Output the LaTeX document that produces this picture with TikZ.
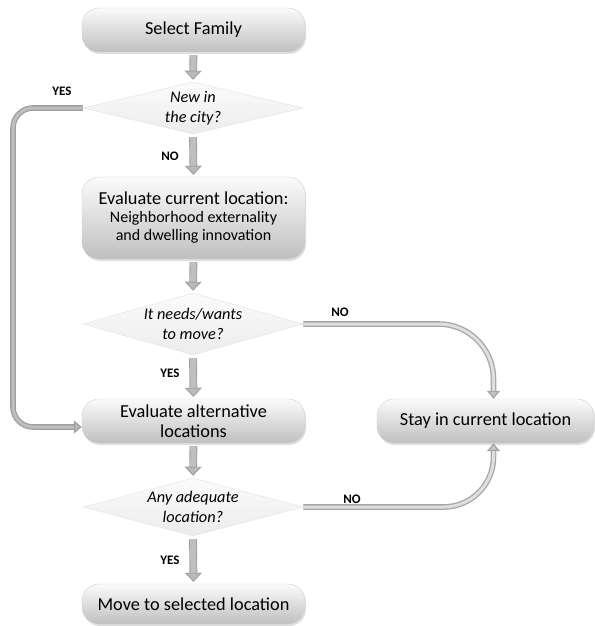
\documentclass[tikz,border=0pt]{standalone}
\usepackage{fontspec}
\setmainfont{Carlito}
\usetikzlibrary{shapes.geometric,arrows.meta,shadows,calc}
\begin{document}
\begin{tikzpicture}[x=1pt,y=-1pt,
  box/.style={rounded corners=17pt, minimum width=223pt, minimum height=44pt,
    top color=gray!3, bottom color=gray!50, draw=gray!35, line width=0.4pt,
    align=center, font=\fontsize{18.3}{20}\selectfont,
    drop shadow={opacity=0.25, shadow xshift=1pt, shadow yshift=-2pt}},
  dia/.style={diamond, draw=gray!20, line width=0.5pt, top color=gray!3, bottom color=gray!15,
    minimum width=220pt, inner sep=0pt},
  dtext/.style={align=center, font=\fontsize{16.3}{20}\selectfont\itshape},
  lbl/.style={font=\fontsize{13}{15}\selectfont\bfseries},
  blk/.style={draw=gray!75, double=gray!50, double distance=6pt, line width=0.9pt,
    -{Triangle[length=9pt,width=17pt,fill=gray!55]}, shorten <=3pt, shorten >=2pt},
  tube/.style={draw=gray!70, double=gray!25, double distance=3pt, line width=1.3pt,
    -{Triangle[length=8pt,width=13pt,fill=gray!45]}},
  dtube/.style={draw=gray!75, double=gray!50, double distance=3pt, line width=1.3pt,
    -{Triangle[length=8pt,width=13pt,fill=gray!55]}}
]
\useasboundingbox (0,0) rectangle (594,626);

\node[box] (sf) at (193.5,30) {Select Family};
\node[dia, minimum height=52pt] (d1) at (193,108) {};
\node[dtext] (t1) at (d1) {New in\\the city?};
\node[box, minimum height=82pt] (ecl) at (193.5,218) {Evaluate current location:\\[-2pt]{\fontsize{16}{19}\selectfont Neighborhood externality}\\[-2pt]{\fontsize{16}{19}\selectfont and dwelling innovation}};
\node[dia, minimum height=62pt] (d2) at (193,324) {};
\node[dtext] (t2) at (d2) {It needs/wants\\to move?};
\node[box] (eal) at (193.5,421) {Evaluate alternative\\locations};
\node[box, minimum width=217pt] (stay) at (485.5,421) {Stay in current location};
\node[dia, minimum height=58pt] (d3) at (193,507) {};
\node[dtext] (t3) at (d3) {Any adequate\\location?};
\node[box, minimum height=40pt] (mv) at (193.5,604) {Move to selected location};

\draw[blk] (sf.south) -- (d1.north);
\draw[blk] (d1.south) -- (ecl.north);
\draw[blk] (ecl.south) -- (d2.north);
\draw[blk] (d2.south) -- (eal.north);
\draw[blk] (eal.south) -- (d3.north);
\draw[blk] (d3.south) -- (mv.north);

\draw[dtube, rounded corners=20pt] (d1.west) -- (13,108) |- ([yshift=-6pt]eal.west);
\draw[tube, rounded corners=55pt] (d2.east) -| ([xshift=8pt]stay.north);
\draw[tube, rounded corners=50pt] (d3.east) -| ([xshift=8pt]stay.south);

\node[lbl] (y1) at (62,91) {YES};
\node[lbl] (n1) at (170,156) {NO};
\node[lbl] (n2) at (340,312) {NO};
\node[lbl] (y2) at (170,373) {YES};
\node[lbl] (n3) at (352,499) {NO};
\node[lbl] (y3) at (170,560) {YES};
\end{tikzpicture}
\end{document}
